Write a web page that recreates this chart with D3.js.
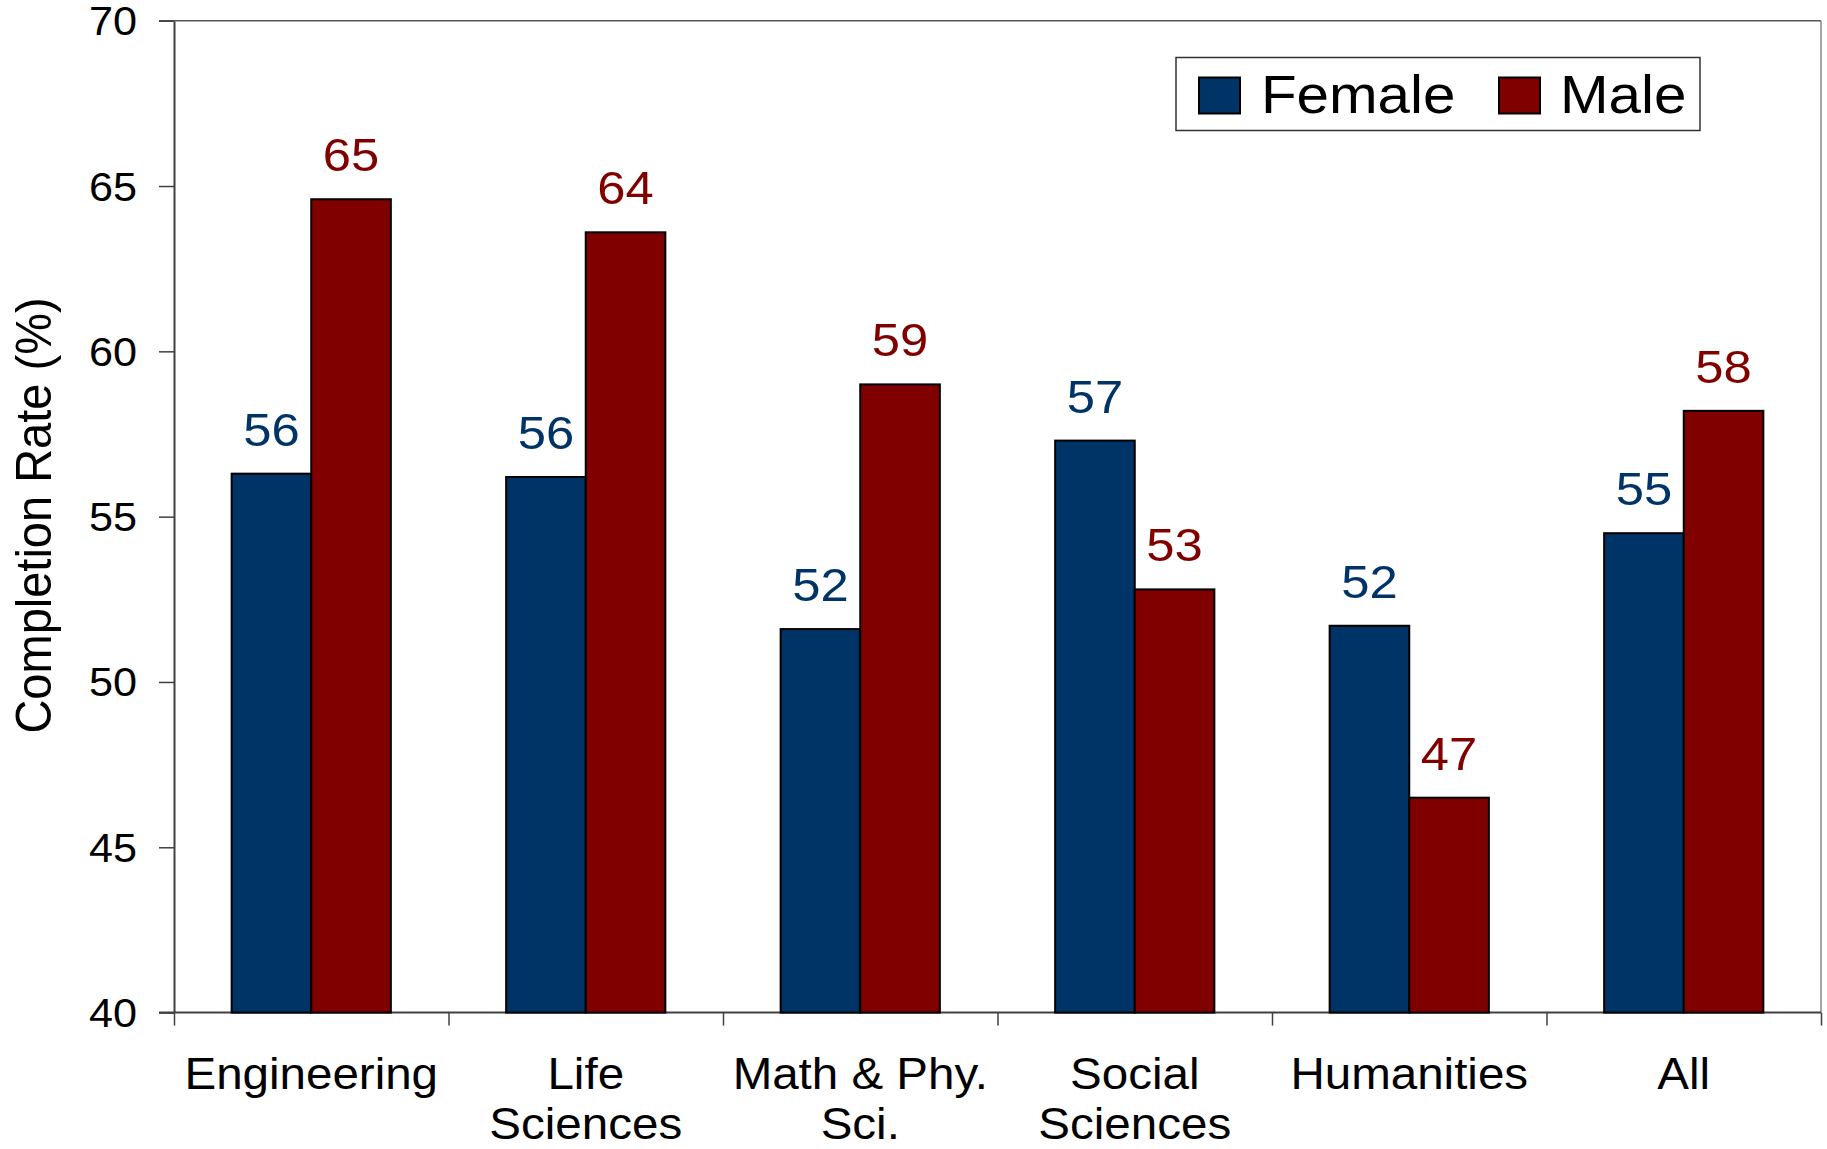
<!DOCTYPE html>
<html>
<head>
<meta charset="utf-8">
<script src="https://cdn.jsdelivr.net/npm/d3@7"></script>
<style>
  html, body { margin: 0; padding: 0; background: #fff; }
  svg { display: block; font-family: "Liberation Sans", Arial, Helvetica, sans-serif; }
</style>
</head>
<body>
<svg id="chart" width="1827" height="1149"></svg>
<script>
// Completion rate by field and gender
const categories = ["Engineering", "Life Sciences", "Math & Phy. Sci.", "Social Sciences", "Humanities", "All"];
const categoryLines = [["Engineering"], ["Life", "Sciences"], ["Math & Phy.", "Sci."], ["Social", "Sciences"], ["Humanities"], ["All"]];
const seriesNames = ["Female", "Male"];
const female = [56.3, 56.2, 51.6, 57.3, 51.7, 54.5];
const male = [64.6, 63.6, 59.0, 52.8, 46.5, 58.2];
const yTicks = [40, 45, 50, 55, 60, 65, 70];
const colors = { Female: "#003366", Male: "#800000" };

const svg = d3.select("#chart");
const plotLeft = 174, plotRight = 1821, plotTop = 20.7, plotBottom = 1012.6;
const sx = 1.08; // glyph width factor

const y = d3.scaleLinear().domain([40, 70]).range([plotBottom, plotTop]);
const x0 = d3.scaleBand().domain(categories).range([plotLeft, plotRight]).paddingInner(0.42).paddingOuter(0.21);
const x1 = d3.scaleBand().domain(seriesNames).range([0, x0.bandwidth()]);

const rows = categories.map((c, i) => ({ cat: c, lines: categoryLines[i], Female: female[i], Male: male[i] }));

// plot frame: top and right edges
svg.append("line").attr("x1", plotLeft - 15).attr("x2", plotRight).attr("y1", plotTop).attr("y2", plotTop)
  .attr("stroke", "#555").attr("stroke-width", 1.5);
svg.append("line").attr("x1", plotRight).attr("x2", plotRight).attr("y1", plotTop).attr("y2", plotBottom)
  .attr("stroke", "#888").attr("stroke-width", 1.5);

// y axis
const yAxis = svg.append("g").attr("transform", `translate(${plotLeft},0)`)
  .call(d3.axisLeft(y).tickValues(yTicks).tickSize(15).tickSizeOuter(0));
yAxis.select(".domain").attr("stroke", "#404040").attr("stroke-width", 2);
yAxis.selectAll(".tick line").attr("stroke", "#404040").attr("stroke-width", 1.5);
yAxis.selectAll(".tick text")
  .attr("x", 0).attr("dy", "0.35em")
  .attr("transform", `translate(-37,0) scale(${sx},1)`)
  .attr("text-anchor", "end")
  .attr("font-size", 40).attr("fill", "#000")
  .style("font-family", "\"Liberation Sans\", Arial, sans-serif");

// x axis with ticks at category boundaries
const xb = d3.scaleLinear().domain([0, categories.length]).range([plotLeft, plotRight]);
const xAxis = svg.append("g").attr("transform", `translate(0,${plotBottom})`)
  .call(d3.axisBottom(xb).ticks(categories.length).tickSize(13).tickSizeOuter(0).tickFormat(""));
xAxis.select(".domain").attr("stroke", "#404040").attr("stroke-width", 2)
  .attr("d", `M${plotLeft - 15},0H${plotRight}`);
xAxis.selectAll(".tick line").attr("stroke", "#404040").attr("stroke-width", 1.5);

// category labels
rows.forEach(r => {
  const cx = x0(r.cat) + x0.bandwidth() / 2;
  r.lines.forEach((ln, j) => {
    svg.append("text")
      .attr("transform", `translate(${cx},${1089.3 + j * 49.5}) scale(${sx},1)`)
      .attr("text-anchor", "middle").attr("font-size", 44).attr("fill", "#000")
      .text(ln);
  });
});

// y axis title
svg.append("text")
  .attr("transform", `translate(51,515.5) scale(${sx},1) rotate(-90)`)
  .attr("text-anchor", "middle").attr("font-size", 47).attr("fill", "#000")
  .text("Completion Rate (%)");

// bars
const groups = svg.append("g").selectAll("g").data(rows).join("g")
  .attr("transform", d => `translate(${x0(d.cat)},0)`);

groups.selectAll("rect").data(d => seriesNames.map(k => ({ key: k, value: d[k] }))).join("rect")
  .attr("x", d => x1(d.key))
  .attr("y", d => y(d.value))
  .attr("width", x1.bandwidth())
  .attr("height", d => y(40) - y(d.value))
  .attr("fill", d => colors[d.key])
  .attr("stroke", "#000").attr("stroke-width", 2);

// value labels
groups.selectAll("text.val").data(d => seriesNames.map(k => ({ key: k, value: d[k] }))).join("text")
  .attr("class", "val")
  .attr("transform", d => `translate(${x1(d.key) + x1.bandwidth() / 2},${y(d.value) - 28}) scale(${sx},1)`)
  .attr("text-anchor", "middle").attr("font-size", 47)
  .attr("fill", d => colors[d.key])
  .text(d => Math.round(d.value));

// legend
const legend = svg.append("g");
legend.append("rect").attr("x", 1176).attr("y", 57.5).attr("width", 524).attr("height", 73)
  .attr("fill", "#fff").attr("stroke", "#333").attr("stroke-width", 1.5);
const legendItems = [{ key: "Female", sw: 1199, tx: 1261 }, { key: "Male", sw: 1499, tx: 1560 }];
legendItems.forEach(it => {
  legend.append("rect").attr("x", it.sw).attr("y", 77.5).attr("width", 41).attr("height", 36)
    .attr("fill", colors[it.key]).attr("stroke", "#000").attr("stroke-width", 2);
  legend.append("text")
    .attr("transform", `translate(${it.tx},113.3) scale(${sx},1)`)
    .attr("font-size", 54).attr("fill", "#000")
    .text(it.key);
});
</script>
</body>
</html>
